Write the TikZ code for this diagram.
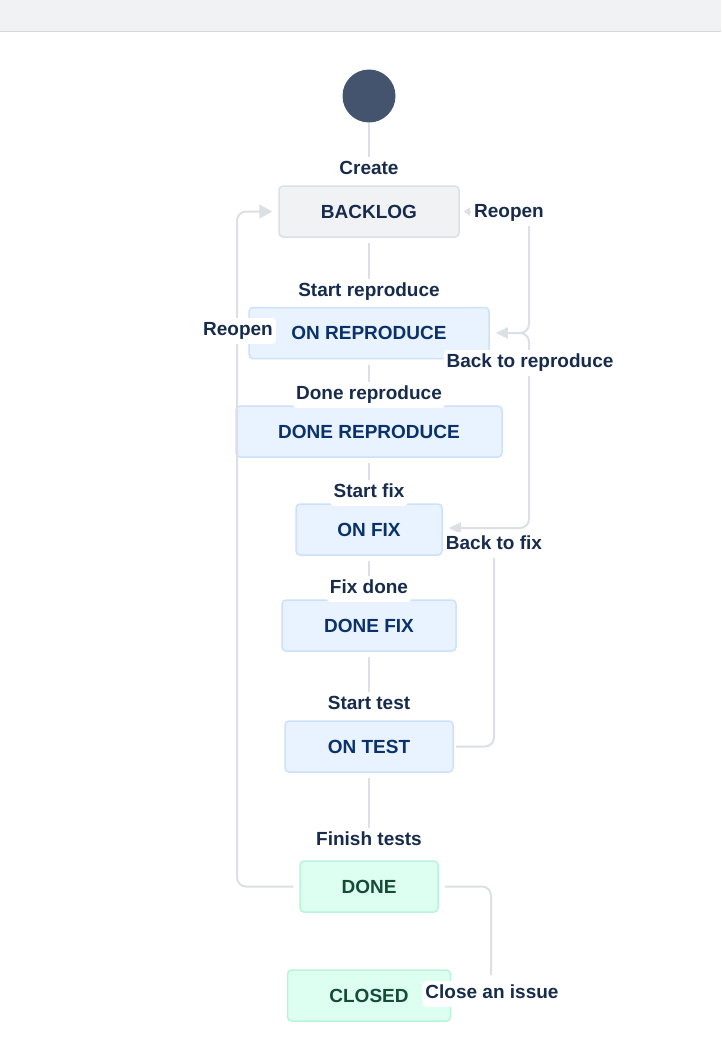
\documentclass[tikz,border=0pt]{standalone}
\usepackage{fontspec}
\setmainfont{Liberation Sans}
\usetikzlibrary{arrows.meta}
\definecolor{topbar}{HTML}{F1F2F4}
\definecolor{topline}{HTML}{D6D8DC}
\definecolor{conncol}{HTML}{DCDFE4}
\definecolor{arrcol}{HTML}{DCDFE4}
\definecolor{labcol}{HTML}{172B4D}
\definecolor{startcol}{HTML}{44546F}
\definecolor{grayfill}{HTML}{F1F2F4}
\definecolor{graydraw}{HTML}{DCDFE4}
\definecolor{bluefill}{HTML}{E9F2FF}
\definecolor{bluedraw}{HTML}{CCE0FF}
\definecolor{bluetext}{HTML}{09326C}
\definecolor{greenfill}{HTML}{DCFFF1}
\definecolor{greendraw}{HTML}{BAF3DB}
\definecolor{greentext}{HTML}{164B35}
\tikzset{
  statebox/.style={rounded corners=4pt, line width=1.5pt, minimum height=51pt,
    inner sep=0pt, text height=13.7pt, text depth=0pt,
    font=\fontsize{19}{22}\selectfont\bfseries},
  graystate/.style={statebox, fill=grayfill, draw=graydraw, text=labcol},
  bluestate/.style={statebox, fill=bluefill, draw=bluedraw, text=bluetext},
  greenstate/.style={statebox, fill=greenfill, draw=greendraw, text=greentext},
  trlabel/.style={fill=white, text=labcol, inner xsep=3pt, inner ysep=4pt,
    text height=13.7pt, text depth=4pt,
    rounded corners=3pt, font=\fontsize{19}{22}\selectfont\bfseries},
  conn/.style={draw=conncol, line width=2pt, rounded corners=9pt},
  bigarrow/.style={-{Triangle[length=13pt,width=14pt,fill=arrcol,color=arrcol]}},
  midarrow/.style={-{Triangle[length=12pt,width=11pt,fill=arrcol,color=arrcol]}},
  smallarrow/.style={-{Triangle[length=6pt,width=8pt,fill=arrcol,color=arrcol]}}
}
\begin{document}
\begin{tikzpicture}[x=1pt,y=-1pt]
\useasboundingbox (0,0) rectangle (721,1049);
\fill[topbar] (0,0) rectangle (721,31);
\draw[topline, line width=1.5pt] (0,31.5) -- (721,31.5);

% start
\node[circle, fill=startcol, minimum size=53pt, inner sep=0pt] (start) at (369,96) {};

% states
\node[graystate, minimum width=180pt] (backlog) at (369,211.5) {BACKLOG};
\node[bluestate, minimum width=240pt] (onrep) at (369,333) {ON REPRODUCE};
\node[bluestate, minimum width=266pt] (donerep) at (369,431.5) {DONE REPRODUCE};
\node[bluestate, minimum width=146pt] (onfix) at (369,529.5) {ON FIX};
\node[bluestate, minimum width=174pt] (donefix) at (369,625.5) {DONE FIX};
\node[bluestate, minimum width=168pt] (ontest) at (369,746.5) {ON TEST};
\node[greenstate, minimum width=138pt] (done) at (369,886.5) {DONE};
\node[greenstate, minimum width=163pt] (closed) at (369,995.5) {CLOSED};

% coordinates for loops
\coordinate (rtop) at (529,226);
\coordinate (rcorner1) at (529,333);
\coordinate (rcorner2) at (529,528);
\coordinate (btfcorner) at (494,746.5);
\coordinate (btfend) at (494,555);
\coordinate (lcornerb) at (237,886.5);
\coordinate (lcornert) at (237,211.5);
\coordinate (ccorner) at (491,886.5);
\coordinate (cend) at (491,975);

% left loop (Reopen to BACKLOG)
\draw[conn, bigarrow, shorten >=6pt] ([xshift=-6pt]done.west) -- (lcornerb) -- (lcornert) -- (backlog.west);

% right loops
\draw[conn, midarrow] (rtop) -- (rcorner1) -- ([xshift=6pt]onrep.east);
\draw[conn, midarrow] (519,333) -- (rcorner1) -- (rcorner2) -- ([xshift=6pt]onfix.east |- rcorner2);
\draw[conn] ([xshift=2pt]ontest.east) -- (btfcorner) -- (btfend);
\draw[conn] ([xshift=6pt]done.east) -- (ccorner) -- (cend);

% transition labels
\node[trlabel] (lcreate) at (369,170) {Create};
\node[trlabel] (lstartrep) at (369,292) {Start reproduce};
\node[trlabel] (ldonerep) at (369,395) {Done reproduce};
\node[trlabel] (lstartfix) at (369,493) {Start fix};
\node[trlabel] (lfixdone) at (369,589) {Fix done};
\node[trlabel] (lstarttest) at (369,705) {Start test};
\node[trlabel] (lfinish) at (369,841) {Finish tests};
\node[trlabel] (lreopenr) at (509,213) {Reopen};
\node[trlabel] (lreopenl) at (238,331) {Reopen};
\node[trlabel] (lbackrep) at (530,363) {Back to reproduce};
\node[trlabel] (lbackfix) at (494,545) {Back to fix};
\node[trlabel] (lclose) at (492,994) {Close an issue};

% straight connectors
\draw[conn] (start) -- (lcreate);
\draw[conn, shorten <=5pt] (backlog) -- (lstartrep);
\draw[conn, shorten <=6pt] (onrep) -- (ldonerep);
\draw[conn, shorten <=5pt] (donerep) -- (lstartfix);
\draw[conn, shorten <=5pt] (onfix) -- (lfixdone);
\draw[conn, shorten <=5pt] (donefix) -- (lstarttest);
\draw[conn, shorten <=5pt] (ontest) -- (lfinish);
\draw[conn, smallarrow, shorten >=4pt] (lreopenr.west |- backlog.east) -- (backlog.east);
\end{tikzpicture}
\end{document}
